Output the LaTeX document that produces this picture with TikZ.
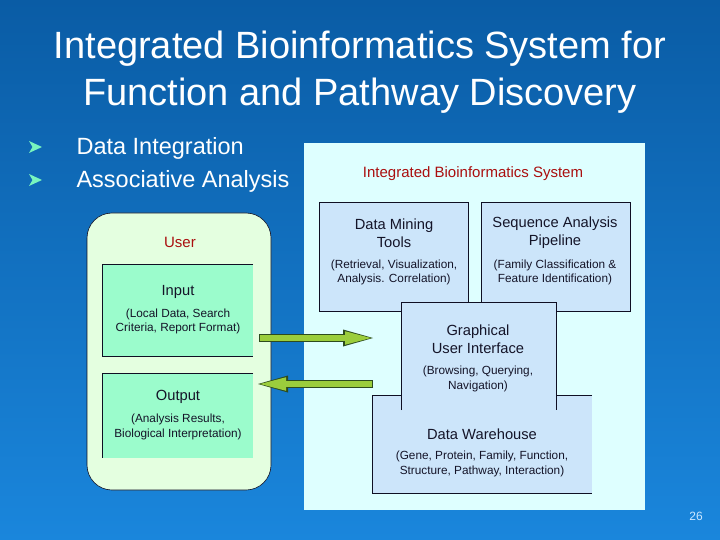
\documentclass[tikz,border=0pt]{standalone}
\usepackage{fontspec}
\setmainfont{Liberation Sans}
\usetikzlibrary{arrows.meta}

\definecolor{slidetop}{RGB}{10,92,165}
\definecolor{slidebottom}{RGB}{26,134,220}
\definecolor{syscyan}{RGB}{222,255,255}
\definecolor{toolblue}{RGB}{204,229,250}
\definecolor{userpale}{RGB}{228,255,224}
\definecolor{usermint}{RGB}{155,252,204}
\definecolor{flowgreen}{RGB}{155,205,60}
\definecolor{flowedge}{RGB}{45,75,30}
\definecolor{darkred}{RGB}{170,15,15}
\definecolor{inktext}{RGB}{20,20,40}
\definecolor{bulletgreen}{RGB}{120,245,190}
\definecolor{edgeline}{RGB}{15,15,35}
\definecolor{pagegray}{RGB}{205,232,255}

\tikzset{
  box/.style={inner sep=0pt, outer sep=0pt},
  edge/.style={draw=edgeline, line width=0.7pt},
  head/.style={font=\fontsize{14.7}{18}\selectfont, text=inktext, align=center},
  note/.style={font=\fontsize{11.8}{14.5}\selectfont, text=inktext, align=center},
  redtitle/.style={font=\fontsize{15}{18}\selectfont, text=darkred},
  flow/.style 2 args={draw=flowedge, line width=8.4pt, shorten <=#1, shorten >=#2,
    -{Triangle[length=30pt,width=17pt,line width=0pt]},
    postaction={draw=flowgreen, line width=6.2pt, shorten <=#1+1pt, shorten >=#2+2pt,
    -{Triangle[length=26pt,width=13.5pt,line width=0pt]}}}
}

\begin{document}
\begin{tikzpicture}[x=1pt, y=-1pt]
  \useasboundingbox (0,0) rectangle (720,540);
  \shade[top color=slidetop, bottom color=slidebottom] (0,0) rectangle (720,540);

  % slide title and bullets
  \node[font=\fontsize{38}{47}\selectfont, text=white, align=center] (title) at (360,72)
    {Integrated Bioinformatics System for\\Function and Pathway Discovery};
  \foreach \y in {147,180}
    \fill[bulletgreen] (29,\y-6) -- (42,\y) -- (29,\y+6) -- (32.5,\y) -- cycle;
  \node[font=\fontsize{23.5}{28}\selectfont, text=white, anchor=base west] (integ) at (73,155) {Data Integration};
  \node[font=\fontsize{23.5}{28}\selectfont, text=white, anchor=base west] (assoc) at (73,188) {Associative Analysis};

  % system side
  \node[box, fill=syscyan, minimum width=341pt, minimum height=367pt] (system) at (474.5,326.5) {};
  \node[redtitle] (systitle) at (473,173.5) {Integrated Bioinformatics System};

  \node[box, edge, fill=toolblue, minimum width=149pt, minimum height=109pt] (mining) at (393.5,256.5) {};
  \node[box, edge, fill=toolblue, minimum width=149pt, minimum height=109pt] (pipeline) at (555.5,256.5) {};

  \node[box, fill=toolblue, minimum width=220pt, minimum height=98pt] (warehouse) at (482,444) {};
  \draw[edge] (warehouse.north east) -- (warehouse.north west) -- (warehouse.south west) -- (warehouse.south east);

  \node[box, fill=toolblue, minimum width=155pt, minimum height=108pt] (gui) at (478.5,356) {};
  \draw[edge] (gui.south west) -- (gui.north west) -- (gui.north east) -- (gui.south east);

  \node[head] (mininghead) at (394,233) {Data Mining\\Tools};
  \node[note] (miningnote) at (394,272.5) {(Retrieval, Visualization,\\Analysis. Correlation)};
  \node[head] (pipehead) at (555,233) {Sequence Analysis\\Pipeline};
  \node[note] (pipenote) at (555,272.5) {(Family Classification \&\\Feature Identification)};
  \node[head] (guihead) at (478,339) {Graphical\\User Interface};
  \node[note] (guinote) at (478,379) {(Browsing, Querying,\\Navigation)};
  \node[head] (whhead) at (482,434) {Data Warehouse};
  \node[note] (whnote) at (482,464) {(Gene, Protein, Family, Function,\\Structure, Pathway, Interaction)};

  % user side
  \node[box, fill=userpale, draw=edgeline, line width=0.6pt, rounded corners=25pt,
    minimum width=184pt, minimum height=277pt] (user) at (179,351.5) {};
  \node[redtitle] (usertitle) at (180,242) {User};

  \node[box, fill=usermint, minimum width=151pt, minimum height=92pt] (input) at (177.5,310) {};
  \draw[edge] (input.north east) -- (input.north west) -- (input.south west) -- (input.south east);
  \node[box, fill=usermint, minimum width=151pt, minimum height=85pt] (output) at (177.5,415.5) {};
  \draw[edge] (output.north east) -- (output.north west) -- (output.south west);

  \node[head] (inhead) at (178,292) {Input};
  \node[note] (innote) at (178,321.5) {(Local Data, Search\\Criteria, Report Format)};
  \node[head] (outhead) at (178,397) {Output};
  \node[note] (outnote) at (178,427) {(Analysis Results,\\Biological Interpretation)};

  % arrows between user and system
  \coordinate (inflow) at ([yshift=-28pt]input.east);
  \coordinate (outflow) at ([yshift=-28pt]gui.west);
  \draw[flow={6pt}{28pt}] (inflow) -- (inflow -| gui.west);
  \draw[flow={28pt}{5pt}] (outflow) -- (outflow -| output.east);

  \node[font=\fontsize{12}{14}\selectfont, text=pagegray] (page) at (696,516) {26};
\end{tikzpicture}
\end{document}
